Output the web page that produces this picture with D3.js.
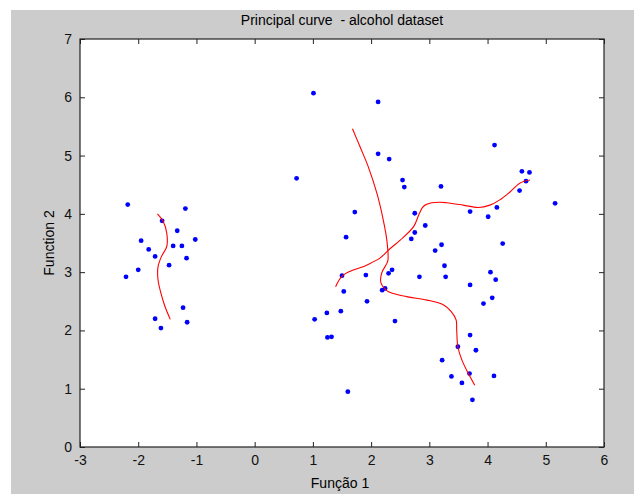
<!DOCTYPE html>
<html>
<head>
<meta charset="utf-8">
<script src="https://cdn.jsdelivr.net/npm/d3@7"></script>
<style>
  body { margin: 0; background: #fff; }
  text { font-family: "Liberation Sans", Arial, sans-serif; fill: #000; }
</style>
</head>
<body>
<script>
var width = 634,
    height = 494;

// scatter points (Function 1, Function 2)
var pointsX = [-2.18, -1.19, -1.59, -1.33, -1.95, -1.02, -1.82, -1.40, -1.25, -1.71, -1.17, -1.47, -2.00, -2.21, -1.23, -1.71, -1.16, -1.61,
  1.01, 2.12, 2.12, 2.31, 0.72, 2.54, 2.57, 1.72, 2.75, 2.93, 1.57, 2.75, 2.69, 3.10, 3.20,
  4.12, 4.59, 4.72, 4.66, 4.55, 5.16, 3.70, 4.16, 4.01, 3.21, 4.26, 3.26, 3.28, 4.05, 4.14, 3.70,
  1.50, 1.91, 2.36, 2.30, 2.83, 1.53, 2.19, 2.24, 1.93, 1.24, 1.48, 1.03, 2.41, 1.25, 1.32,
  3.70, 3.49, 3.80, 3.22, 3.38, 3.69, 3.56, 1.60, 3.74, 4.11, 4.08, 3.93];
var pointsY = [4.16, 4.09, 3.88, 3.71, 3.54, 3.56, 3.39, 3.45, 3.45, 3.27, 3.24, 3.12, 3.04, 2.92, 2.39, 2.20, 2.14, 2.04,
  6.07, 5.92, 5.03, 4.94, 4.61, 4.58, 4.46, 4.03, 4.01, 3.80, 3.60, 3.68, 3.57, 3.37, 4.47,
  5.18, 4.73, 4.71, 4.56, 4.40, 4.18, 4.04, 4.11, 3.95, 3.47, 3.49, 3.11, 2.92, 3.00, 2.87, 2.78,
  2.94, 2.95, 3.04, 2.98, 2.92, 2.67, 2.69, 2.72, 2.50, 2.30, 2.33, 2.19, 2.16, 1.88, 1.89,
  1.92, 1.72, 1.66, 1.49, 1.21, 1.26, 1.10, 0.95, 0.81, 1.22, 2.56, 2.46];

// principal curve vertices
var curveLeftX = [-1.67, -1.57, -1.51, -1.51, -1.60, -1.66, -1.66, -1.61, -1.54, -1.45];
var curveLeftY = [4.00, 3.87, 3.67, 3.44, 3.27, 3.09, 2.87, 2.64, 2.41, 2.19];
var curveAX = [1.39, 1.52, 1.92, 2.15, 2.30, 2.50, 2.73, 2.83, 2.90, 3.04, 3.18, 3.30, 3.58, 3.84, 4.04, 4.21, 4.39, 4.56, 4.73];
var curveAY = [2.75, 2.95, 3.12, 3.24, 3.38, 3.55, 3.78, 4.01, 4.13, 4.19, 4.20, 4.19, 4.15, 4.11, 4.15, 4.24, 4.38, 4.53, 4.58];
var curveBX = [1.68, 1.81, 1.95, 2.10, 2.21, 2.27, 2.29, 2.27, 2.18, 2.17, 2.24, 2.33, 2.61, 2.96, 3.24, 3.38, 3.46, 3.47, 3.49, 3.56, 3.67, 3.78];
var curveBY = [5.46, 5.15, 4.81, 4.35, 3.89, 3.55, 3.21, 3.15, 2.98, 2.81, 2.71, 2.65, 2.58, 2.52, 2.44, 2.32, 2.18, 2.01, 1.72, 1.49, 1.26, 1.06];

var xTicks = [-3, -2, -1, 0, 1, 2, 3, 4, 5, 6];
var yTicks = [0, 1, 2, 3, 4, 5, 6, 7];

var plotL = 80, plotR = 604, plotT = 39, plotB = 447;

var x = d3.scaleLinear().domain([-3, 6]).range([plotL, plotR]);
var y = d3.scaleLinear().domain([0, 7]).range([plotB, plotT]);

var svg = d3.select("body").append("svg")
    .attr("width", width)
    .attr("height", height);

// figure background
svg.append("rect")
    .attr("x", 11).attr("y", 10)
    .attr("width", width - 11).attr("height", height - 10)
    .attr("fill", "#cccccc");

svg.append("rect")
    .attr("x", plotL).attr("y", plotT)
    .attr("width", plotR - plotL).attr("height", plotB - plotT)
    .attr("fill", "#fff");

var fmt = function(d) { return String(d); };

// axes, ticks pointing inward
svg.append("g")
    .attr("transform", "translate(0," + plotB + ")")
    .call(d3.axisBottom(x).tickValues(xTicks).tickFormat(fmt).tickSizeInner(-5).tickSizeOuter(0).tickPadding(8))
    .call(function(g) { g.select(".domain").remove(); });
svg.append("g")
    .attr("transform", "translate(0," + plotT + ")")
    .call(d3.axisTop(x).tickValues(xTicks).tickSizeInner(-5).tickSizeOuter(0).tickFormat(""))
    .call(function(g) { g.select(".domain").remove(); });
svg.append("g")
    .attr("transform", "translate(" + plotL + ",0)")
    .call(d3.axisLeft(y).tickValues(yTicks).tickFormat(fmt).tickSizeInner(-5).tickSizeOuter(0).tickPadding(8))
    .call(function(g) { g.select(".domain").remove(); });
svg.append("g")
    .attr("transform", "translate(" + plotR + ",0)")
    .call(d3.axisRight(y).tickValues(yTicks).tickSizeInner(-5).tickSizeOuter(0).tickFormat(""))
    .call(function(g) { g.select(".domain").remove(); });

svg.selectAll(".tick text")
    .style("font-size", "14px")
    .style("fill", "#111");
svg.selectAll(".tick line").attr("stroke", "#222");

svg.append("rect")
    .attr("x", plotL).attr("y", plotT)
    .attr("width", plotR - plotL).attr("height", plotB - plotT)
    .attr("fill", "none")
    .attr("stroke", "#222")
    .attr("stroke-width", 1.2);

// points
var pts = pointsX.map(function(d, i) { return [d, pointsY[i]]; });
svg.append("g")
  .selectAll("circle")
    .data(pts)
  .enter().append("circle")
    .attr("cx", function(d) { return x(d[0]); })
    .attr("cy", function(d) { return y(d[1]); })
    .attr("r", 2.4)
    .attr("fill", "#0000ff");

// principal curves
var line = d3.line()
    .x(function(d) { return x(d[0]); })
    .y(function(d) { return y(d[1]); })
    .curve(d3.curveCatmullRom);

[[curveLeftX, curveLeftY], [curveAX, curveAY], [curveBX, curveBY]].forEach(function(c) {
  svg.append("path")
      .datum(c[0].map(function(d, i) { return [d, c[1][i]]; }))
      .attr("fill", "none")
      .attr("stroke", "#ff0000")
      .attr("stroke-width", 1.1)
      .attr("d", line);
});

// labels
svg.append("text")
    .attr("x", (plotL + plotR) / 2).attr("y", 25)
    .attr("text-anchor", "middle")
    .style("font-size", "14px")
    .style("white-space", "pre")
    .text("Principal curve  - alcohol dataset");
svg.append("text")
    .attr("x", (plotL + plotR) / 2 - 2).attr("y", 488)
    .attr("text-anchor", "middle")
    .style("font-size", "14px")
    .text("Função 1");
svg.append("text")
    .attr("transform", "translate(54," + (plotT + plotB) / 2 + ") rotate(-90)")
    .attr("text-anchor", "middle")
    .style("font-size", "14px")
    .text("Function 2");
</script>
</body>
</html>
